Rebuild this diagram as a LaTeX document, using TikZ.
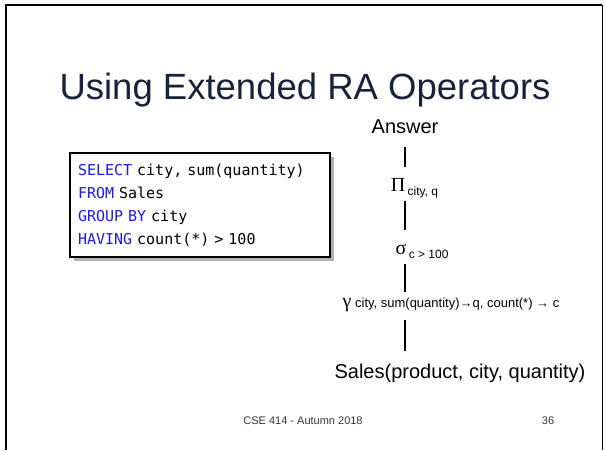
\documentclass[tikz,border=0pt]{standalone}
\usepackage{fontspec}
\setmainfont{Liberation Sans}
\setmonofont{DejaVu Sans Mono}
\newfontfamily\grk{Liberation Serif}
\usepackage{xcolor}
\usetikzlibrary{shadows}
\definecolor{ttl}{RGB}{23,35,58}
\definecolor{kwblue}{RGB}{25,25,245}
\newcommand{\sqlfont}{\ttfamily\fontsize{15}{23}\selectfont
  \fontdimen2\font=9.03pt\relax\fontdimen3\font=0pt\relax\fontdimen4\font=0pt\relax}
\tikzset{
  frame/.style={line width=2.2pt},
  ttlnode/.style={inner sep=0pt,text=ttl,font=\fontsize{36.5}{44}\selectfont},
  op/.style={inner sep=0pt,font=\fontsize{20}{24}\selectfont},
  grkop/.style={inner sep=0pt,font=\grk\fontsize{20}{24}\selectfont},
  sub/.style={inner sep=0pt,font=\fontsize{12}{14}\selectfont},
  lbl/.style={inner sep=0pt,font=\fontsize{13}{15}\selectfont},
  link/.style={line width=2pt},
  sqlbox/.style={draw,line width=2pt,fill=white,align=left,text width=244pt,
    inner xsep=8pt,inner ysep=11pt,font=\sqlfont,
    drop shadow={shadow xshift=4pt,shadow yshift=-4pt,fill=black!60}},
  foot/.style={inner sep=0pt,text=black!80,font=\fontsize{11}{13}\selectfont}
}
\newcommand{\kw}[1]{\textcolor{kwblue}{#1}}

\begin{document}
\begin{tikzpicture}[x=1pt,y=-1pt]
\useasboundingbox (0,0) rectangle (605,450);
% slide frame
\draw[frame] (6,450) -- (6,5) -- (602,5);
\draw[line width=1pt] (602,5) -- (602,450);

\node[ttlnode] (title) at (305,90) {Using Extended RA Operators};

% query
\node[sqlbox] (sql) at (200,205) {\kw{SELECT} city, sum(quantity)\\
\kw{FROM} Sales\\
\kw{GROUP BY} city\\
\kw{HAVING} count(*) > 100};

% plan
\node[op] (ans) at (405,127) {Answer};
\node[grkop] (pi) at (398,185) {Π};
\node[sub,anchor=base west] (pisub) at ([xshift=2pt,yshift=-4pt]pi.base east) {city, q};
\node[grkop] (sig) at (401,249) {σ};
\node[sub,anchor=base west] (sigsub) at ([xshift=2pt,yshift=-4pt]sig.base east) {c > 100};
\node[lbl] (gam) at (451,305) {{\grk\fontsize{20}{22}\selectfont γ} city, sum(quantity)→q, count(*) → c};
\node[op] (sales) at (460,373) {Sales(product, city, quantity)};

\draw[link,shorten <=13pt,shorten >=11pt] (ans.south) -- (ans.south |- pi.north);
\draw[link,shorten <=9pt,shorten >=14pt] (ans.south |- pi.south) -- (ans.south |- sig.north);
\draw[link,shorten <=10pt,shorten >=6pt] (ans.south |- sig.south) -- (ans.south |- gam.north);
\draw[link,shorten <=8pt,shorten >=12pt] (ans.south |- gam.south) -- (ans.south |- sales.north);

\node[foot] (course) at (303,421) {CSE 414 - Autumn 2018};
\node[foot] (page) at (548,421) {36};
\end{tikzpicture}
\end{document}
